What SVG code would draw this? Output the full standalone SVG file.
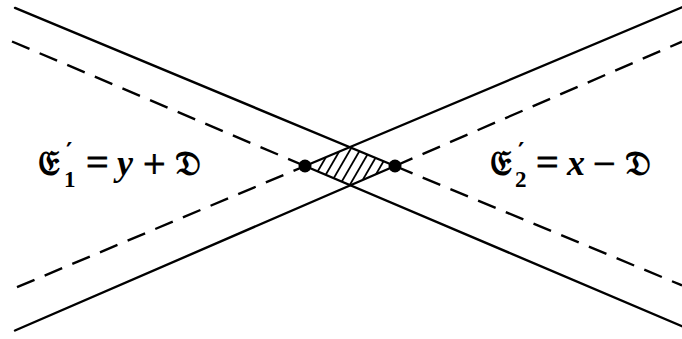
<svg xmlns="http://www.w3.org/2000/svg" width="682" height="339" viewBox="0 0 682 339">
  <style>
    .solid { stroke: #000; stroke-width: 2.4; fill: none; stroke-linecap: round; }
    .dash { stroke: #000; stroke-width: 2.4; fill: none; stroke-dasharray: 19 11; }
    .hatch { stroke: #000; stroke-width: 1.8; }
    .dot { fill: #000; }
    .lbl { font-family: "Liberation Serif", "DejaVu Serif", serif; font-size: 36px; font-weight: bold; fill: #000; }
    .frak { font-family: "DejaVu Serif", "DejaVu Sans", "Noto Sans", serif; font-size: 35px; font-weight: bold; }
    .it { font-style: italic; }
    .op { font-size: 40px; font-weight: normal; stroke: #000; stroke-width: 0.8; }
    .pr { font-family: "DejaVu Sans", sans-serif; font-size: 24px; font-weight: bold; }
    .sub { font-size: 23px; font-weight: bold; }
  </style>
  <defs>
    <clipPath id="diamond">
      <polygon points="305,166 349.7,147.2 395,166 350.4,185.3"/>
    </clipPath>
  </defs>
  <g id="connectors">
    <line class="solid" x1="15" y1="7.9" x2="395" y2="166"/>
    <line class="dash" x1="395" y1="166" x2="682" y2="285.4"/>
    <line class="dash" x1="12" y1="41.5" x2="305" y2="166"/>
    <line class="solid" x1="305" y1="166" x2="682" y2="326.2"/>
    <line class="solid" x1="15" y1="330.5" x2="395" y2="166"/>
    <line class="dash" x1="395" y1="166" x2="682" y2="41.7"/>
    <line class="dash" x1="17" y1="287.2" x2="305" y2="166"/>
    <line class="solid" x1="305" y1="166" x2="682" y2="7.3"/>
  </g>
  <g id="hatched-region" clip-path="url(#diamond)">
    <line class="hatch" x1="303.4" y1="196" x2="338.2" y2="136"/>
    <line class="hatch" x1="313.4" y1="196" x2="348.2" y2="136"/>
    <line class="hatch" x1="323.4" y1="196" x2="358.2" y2="136"/>
    <line class="hatch" x1="333.4" y1="196" x2="368.2" y2="136"/>
    <line class="hatch" x1="343.4" y1="196" x2="378.2" y2="136"/>
    <line class="hatch" x1="353.4" y1="196" x2="388.2" y2="136"/>
    <line class="hatch" x1="363.4" y1="196" x2="398.2" y2="136"/>
    <line class="hatch" x1="373.4" y1="196" x2="408.2" y2="136"/>
  </g>
  <g id="left-point">
    <circle class="dot" cx="305" cy="166" r="6.5"/>
  </g>
  <g id="right-point">
    <circle class="dot" cx="395" cy="166" r="6.5"/>
  </g>
  <g id="label-left">
    <text class="lbl" y="175"><tspan class="frak" x="38">𝔈</tspan><tspan class="pr" x="66" y="160">′</tspan><tspan class="sub" x="64" y="187">1</tspan><tspan class="op" x="86" y="176">=</tspan><tspan class="it" x="117" y="175">y</tspan><tspan class="op" x="143" y="177">+</tspan><tspan class="frak" x="175" y="175">𝔇</tspan></text>
  </g>
  <g id="label-right">
    <text class="lbl" y="175"><tspan class="frak" x="490">𝔈</tspan><tspan class="pr" x="518" y="160">′</tspan><tspan class="sub" x="515" y="187">2</tspan><tspan class="op" x="536" y="176">=</tspan><tspan class="it" x="567" y="175">x</tspan><tspan class="op" x="593" y="177">−</tspan><tspan class="frak" x="625" y="175">𝔇</tspan></text>
  </g>
</svg>
